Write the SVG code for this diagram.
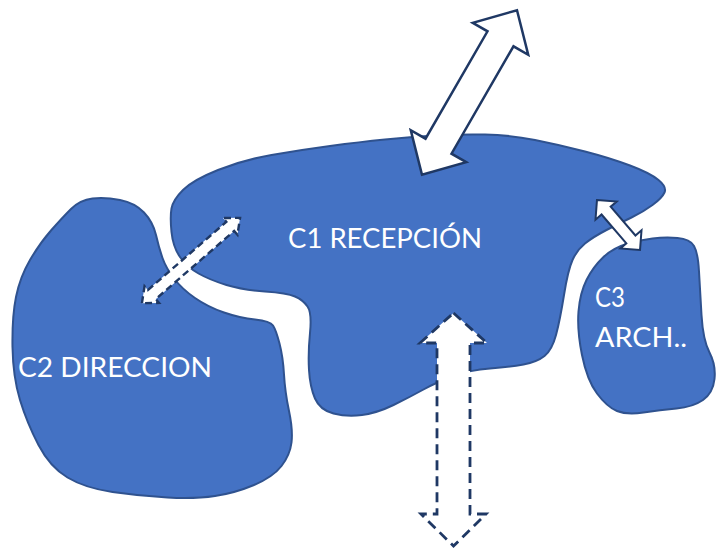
<svg xmlns="http://www.w3.org/2000/svg" width="717" height="548" viewBox="0 0 717 548">
<style>
.blob{fill:#4472C4;stroke:#2F528F;stroke-width:2;stroke-linejoin:round}
.arr{fill:#FFFFFF;stroke:#1F3864;stroke-width:2.5;stroke-linejoin:miter}
.dash{stroke-dasharray:10 6;stroke-width:2.8}
.lbl{fill:#FFFFFF;font-family:"Lato","Noto Sans","Liberation Sans",sans-serif;font-size:27px}
</style>
<rect width="717" height="548" fill="#FFFFFF"/>
<g id="c2">
<path class="blob" d="M71,209 Q80,200 92.5,198.5 Q105,197 120,200 Q135,203 144,212.5 Q153,222 156,235 Q159,248 162.5,258 Q166,268 174,278.5 Q182,289 195,298 Q208,307 224,312.5 Q240,318 255,319.5 Q270,321 273,325.5 Q276,330 279.5,343.5 Q283,357 284,374.5 Q285,392 289,411 Q293,430 291.5,442.5 Q290,455 281.5,466 Q273,477 254,485 Q235,493 215,496 Q195,499 167.5,497.5 Q140,496 112.5,492 Q85,488 67.5,477.5 Q50,467 38.5,445 Q27,423 20,400 Q13,377 12.5,347 Q12,317 16,297 Q20,277 30,260 Q40,243 51,230.5 Q62,218 71,209 Z"/>
<text class="lbl" x="18" y="377" textLength="194" lengthAdjust="spacingAndGlyphs">C2 DIRECCION</text>
</g>
<g id="c1">
<path class="blob" d="M171.5,232 Q170,217 171.5,208.5 Q173,200 183,190 Q193,180 218,170 Q243,160 271.5,155 Q300,150 330,146 Q360,142 385,139.5 Q410,137 435,135.5 Q460,134 485,134.5 Q510,135 535,140 Q560,145 585,151.5 Q610,158 630,165.5 Q650,173 658.5,180 Q667,187 664.5,192.5 Q662,198 652.5,205 Q643,212 631.5,217.5 Q620,223 606.5,230 Q593,237 585,243.5 Q577,250 572.5,260 Q568,270 564,295 Q560,320 556,335 Q552,350 544.5,356 Q537,362 523.5,364.5 Q510,367 490,368.5 Q470,370 453.5,376 Q437,382 423.5,389.5 Q410,397 393.5,405 Q377,413 362,415 Q347,417 333.5,413.5 Q320,410 315,398.5 Q310,387 309,370 Q308,353 310,333 Q312,313 307.5,306.5 Q303,300 295,296.5 Q287,293 265,291.5 Q243,290 226.5,285 Q210,280 198.5,273.5 Q187,267 180,257 Q173,247 171.5,232 Z"/>
<text class="lbl" x="288" y="248" textLength="194" lengthAdjust="spacingAndGlyphs">C1 RECEPCIÓN</text>
</g>
<g id="c3">
<path class="blob" d="M626.5,244 Q640,240 652.5,238.5 Q665,237 677.5,238 Q690,239 694,246 Q698,253 699,271.5 Q700,290 701.5,315 Q703,340 709.5,352.5 Q716,365 714.5,379 Q713,393 703,400 Q693,407 676.5,408.5 Q660,410 643.5,412.5 Q627,415 617,411 Q607,407 597,393.5 Q587,380 582,355 Q577,330 578.5,311.5 Q580,293 586.5,280 Q593,267 603,257.5 Q613,248 626.5,244 Z"/>
<text class="lbl" x="595" y="307" textLength="30" lengthAdjust="spacingAndGlyphs">C3</text>
<text class="lbl" x="595" y="347" textLength="92" lengthAdjust="spacingAndGlyphs">ARCH..</text>
</g>
<g id="connectors">
<polygon class="arr" transform="translate(469.5,92.5) rotate(-60)" points="-95,0 -62,-32 -62,-15 62,-15 62,-32 95,0 62,32 62,15 -62,15 -62,32"/>
<polygon class="arr dash" style="stroke-width:2.4;stroke-dasharray:7 4" transform="translate(191,260.5) rotate(-41)" points="-65,0 -52,-11 -52,-6 52,-6 52,-11 65,0 52,11 52,6 -52,6 -52,11"/>
<polygon class="arr" style="stroke-width:2" transform="translate(618.5,225) rotate(49.3)" points="-33,0 -19,-14 -19,-6 19,-6 19,-14 33,0 19,14 19,6 -19,6 -19,14"/>
<polygon class="arr dash" points="453.5,313 487,343 470,343 470,514 486,514 453.5,546 421,514 437,514 437,343 420,343"/>
</g>
</svg>
